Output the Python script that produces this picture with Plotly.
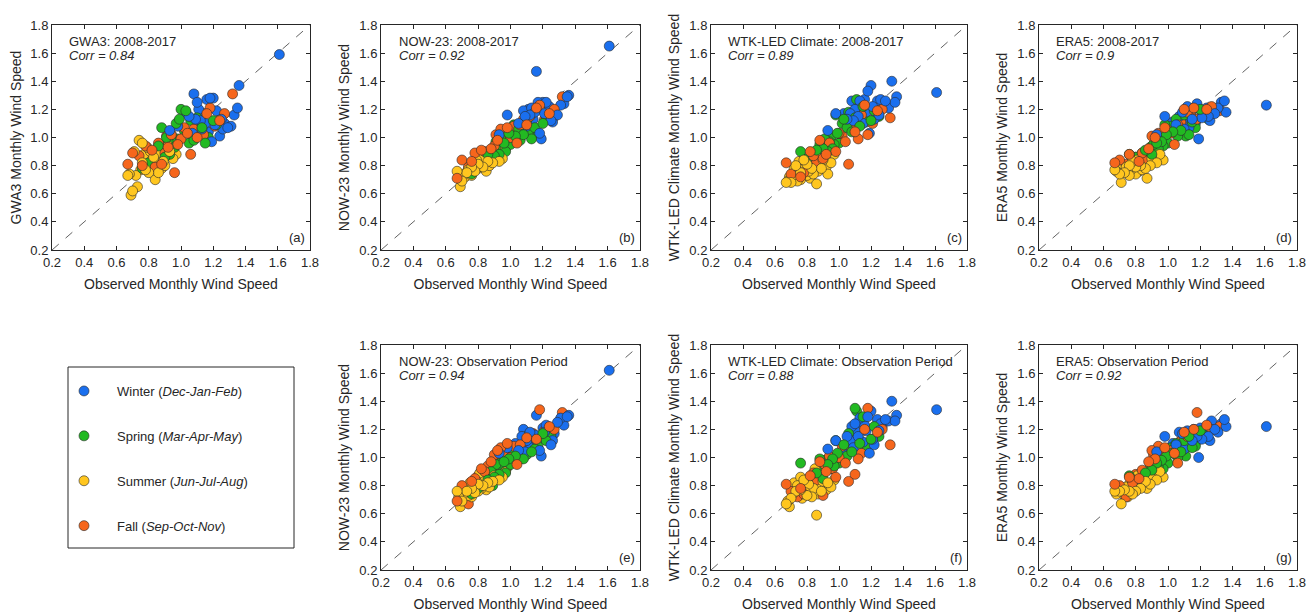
import plotly.graph_objects as go

# ---------------- data ----------------
season_names = ["Winter (<i>Dec-Jan-Feb</i>)", "Spring (<i>Mar-Apr-May</i>)",
                "Summer (<i>Jun-Jul-Aug</i>)", "Fall (<i>Sep-Oct-Nov</i>)"]
season_colors = ["#1a6fee", "#22b922", "#ffc61f", "#f6661c"]

# observed monthly wind speed (shared by all panels)
obs_winter = [1.61, 1.36, 1.35, 1.33, 1.31, 1.29, 1.27, 1.26, 1.25, 1.24, 1.22, 1.21, 1.20, 1.19, 1.18,
              1.17, 1.16, 1.15, 1.14, 1.13, 1.12, 1.11, 1.10, 1.09, 1.08, 1.07, 1.05, 1.03, 0.98, 0.93]
obs_spring = [1.25, 1.22, 1.20, 1.17, 1.15, 1.13, 1.11, 1.10, 1.08, 1.06, 1.05, 1.03, 1.02, 1.00, 0.99,
              0.98, 0.97, 0.96, 0.95, 0.94, 0.93, 0.92, 0.91, 0.90, 0.89, 0.88, 0.86, 0.84, 0.80, 0.76]
obs_summer = [0.97, 0.95, 0.93, 0.92, 0.90, 0.89, 0.88, 0.87, 0.86, 0.85, 0.84, 0.83, 0.82, 0.81, 0.80,
              0.80, 0.79, 0.78, 0.77, 0.76, 0.76, 0.75, 0.74, 0.73, 0.72, 0.71, 0.70, 0.69, 0.68, 0.67]
obs_fall = [1.32, 1.27, 1.24, 1.21, 1.18, 1.16, 1.14, 1.12, 1.10, 1.08, 1.06, 1.04, 1.02, 1.00, 0.98,
            0.96, 0.94, 0.92, 0.91, 0.90, 0.88, 0.86, 0.84, 0.82, 0.80, 0.78, 0.76, 0.74, 0.70, 0.67]

# (a) GWA3 2008-2017
a_winter = [1.59, 1.37, 1.21, 1.16, 1.08, 1.07, 1.10, 1.06, 1.13, 1.01, 1.19, 1.09, 1.28, 0.97, 1.28,
            1.04, 1.27, 1.10, 1.17, 1.06, 1.12, 1.20, 1.25, 1.13, 1.31, 1.03, 1.15, 1.18, 1.08, 1.05]
a_spring = [1.15, 1.09, 1.12, 1.00, 0.96, 1.07, 1.02, 1.14, 0.98, 1.12, 0.96, 1.19, 1.05, 1.20, 1.13,
            0.99, 1.10, 0.93, 0.96, 1.02, 0.88, 0.97, 1.00, 0.86, 0.92, 1.07, 0.94, 0.87, 0.82, 0.78]
a_summer = [0.88, 0.85, 0.90, 0.94, 0.80, 0.83, 0.78, 0.89, 0.75, 0.82, 0.70, 0.86, 0.79, 0.90, 0.75,
            0.84, 0.93, 0.77, 0.88, 0.82, 0.96, 0.77, 0.98, 0.65, 0.73, 0.90, 0.62, 0.59, 0.74, 0.73]
a_fall = [1.31, 1.17, 1.12, 1.08, 1.21, 1.17, 1.02, 1.11, 1.00, 1.06, 0.88, 1.03, 1.07, 0.99, 0.95,
          0.75, 1.02, 0.93, 1.01, 0.89, 0.81, 0.96, 0.79, 0.91, 0.76, 0.94, 0.80, 0.87, 0.89, 0.81]

# (b) NOW-23 2008-2017
b_winter = [1.65, 1.30, 1.29, 1.24, 1.23, 1.16, 1.15, 1.11, 1.12, 1.22, 1.25, 1.17, 1.25, 0.99, 1.03,
            1.25, 1.47, 1.18, 1.13, 1.21, 1.16, 1.20, 1.08, 1.15, 1.19, 1.06, 1.10, 1.07, 1.16, 1.02]
b_spring = [1.17, 1.15, 1.10, 1.03, 1.07, 0.99, 1.04, 1.12, 1.02, 0.98, 1.06, 1.01, 1.09, 0.95, 1.03,
            1.06, 0.90, 0.96, 0.94, 0.99, 0.88, 0.92, 0.97, 0.87, 0.85, 0.91, 0.88, 0.84, 0.79, 0.74]
b_summer = [0.92, 0.85, 0.83, 0.86, 0.89, 0.82, 0.87, 0.80, 0.83, 0.76, 0.87, 0.79, 0.80, 0.85, 0.81,
            0.78, 0.84, 0.76, 0.80, 0.73, 0.79, 0.74, 0.77, 0.75, 0.72, 0.74, 0.69, 0.65, 0.72, 0.76]
b_fall = [1.29, 1.20, 1.17, 1.13, 1.23, 1.21, 1.18, 1.15, 1.09, 1.13, 1.09, 0.96, 1.08, 1.00, 1.07,
          1.03, 1.06, 0.98, 1.02, 0.94, 0.92, 0.89, 0.90, 0.91, 0.88, 0.89, 0.83, 0.79, 0.84, 0.71]

# (c) WTK-LED Climate 2008-2017
c_winter = [1.32, 1.29, 1.25, 1.40, 1.21, 1.26, 1.22, 1.27, 1.16, 1.26, 1.13, 1.22, 1.37, 1.03, 1.33,
            1.18, 1.27, 1.10, 1.21, 1.26, 1.15, 1.24, 1.20, 1.12, 1.26, 1.17, 1.13, 1.17, 1.17, 1.05]
c_spring = [1.15, 1.19, 1.12, 1.11, 1.22, 1.08, 1.27, 1.14, 1.04, 1.18, 1.07, 1.13, 1.10, 0.96, 1.03,
            1.16, 0.95, 0.92, 1.00, 0.97, 0.90, 0.94, 0.99, 0.92, 0.97, 0.95, 0.91, 0.88, 0.85, 0.90]
c_summer = [0.88, 0.82, 0.74, 0.79, 0.84, 0.78, 0.85, 0.76, 0.67, 0.80, 0.74, 0.78, 0.71, 0.76, 0.81,
            0.73, 0.79, 0.84, 0.77, 0.70, 0.75, 0.83, 0.69, 0.80, 0.78, 0.73, 0.68, 0.72, 0.69, 0.68]
c_fall = [1.14, 1.20, 1.19, 1.10, 1.02, 1.23, 1.16, 0.99, 1.04, 1.08, 0.81, 0.97, 1.01, 1.03, 0.90,
          0.94, 0.96, 0.88, 0.92, 0.85, 0.98, 0.83, 0.87, 0.90, 0.78, 0.75, 0.72, 0.78, 0.74, 0.82]

# (d) ERA5 2008-2017
d_winter = [1.23, 1.18, 1.26, 1.25, 1.21, 1.17, 1.19, 1.12, 1.15, 1.21, 1.17, 1.14, 1.20, 0.99, 1.24,
            1.10, 1.21, 1.13, 1.18, 1.07, 1.22, 1.14, 1.06, 1.18, 1.12, 1.15, 1.09, 1.11, 1.15, 1.02]
d_spring = [1.13, 1.16, 1.20, 1.07, 1.11, 1.02, 1.01, 1.16, 1.05, 1.01, 1.13, 1.04, 1.08, 0.96, 1.02,
            1.09, 0.94, 0.97, 1.00, 0.92, 0.96, 0.91, 0.95, 0.88, 0.93, 0.90, 0.91, 0.89, 0.86, 0.88]
d_summer = [0.84, 0.88, 0.82, 0.86, 0.85, 0.80, 0.86, 0.71, 0.78, 0.83, 0.77, 0.80, 0.76, 0.84, 0.79,
            0.74, 0.81, 0.83, 0.77, 0.73, 0.80, 0.76, 0.79, 0.75, 0.77, 0.68, 0.74, 0.78, 0.76, 0.77]
d_fall = [1.19, 1.22, 1.20, 1.17, 1.13, 1.21, 1.16, 1.18, 1.20, 1.11, 1.09, 0.95, 1.03, 1.05, 1.07,
          0.98, 1.03, 1.00, 0.95, 1.01, 0.92, 0.85, 0.89, 0.83, 0.86, 0.82, 0.88, 0.81, 0.84, 0.82]

# (e) NOW-23 observation period
e_winter = [1.62, 1.30, 1.29, 1.23, 1.28, 1.25, 1.17, 1.12, 1.09, 1.21, 1.23, 1.18, 1.21, 1.01, 1.05,
            1.13, 1.30, 1.16, 1.10, 1.14, 1.18, 1.08, 1.12, 1.04, 1.20, 1.15, 1.05, 1.10, 1.07, 1.03]
e_spring = [1.15, 1.12, 1.17, 1.08, 1.06, 1.04, 1.16, 1.02, 0.99, 1.07, 0.98, 1.01, 1.04, 0.95, 0.99,
            0.93, 0.89, 0.97, 0.92, 0.96, 0.88, 0.91, 0.95, 0.86, 0.80, 0.90, 0.84, 0.82, 0.78, 0.74]
e_summer = [0.90, 0.86, 0.84, 0.88, 0.87, 0.83, 0.85, 0.79, 0.82, 0.77, 0.86, 0.80, 0.78, 0.89, 0.81,
            0.76, 0.83, 0.75, 0.79, 0.72, 0.78, 0.82, 0.73, 0.76, 0.70, 0.74, 0.69, 0.65, 0.72, 0.76]
e_fall = [1.32, 1.20, 1.22, 1.19, 1.34, 1.13, 1.17, 1.16, 1.14, 1.11, 1.09, 0.95, 1.08, 1.00, 1.10,
          1.04, 1.07, 1.05, 0.98, 1.02, 0.97, 0.94, 0.90, 0.92, 0.87, 0.85, 0.83, 0.67, 0.80, 0.69]

# (f) WTK-LED Climate observation period
f_winter = [1.34, 1.30, 1.26, 1.40, 1.26, 1.27, 1.22, 1.24, 1.19, 1.27, 1.09, 1.13, 1.33, 1.03, 1.29,
            1.19, 1.23, 1.11, 1.21, 1.28, 1.15, 1.18, 1.24, 1.07, 1.22, 1.12, 1.15, 1.05, 1.12, 1.06]
f_spring = [1.15, 1.22, 1.13, 1.08, 1.29, 1.10, 1.33, 1.35, 1.04, 1.17, 1.01, 1.09, 0.97, 0.96, 1.03,
            1.12, 0.94, 0.99, 0.92, 1.00, 0.95, 0.91, 0.98, 0.85, 0.93, 0.99, 0.89, 0.87, 0.84, 0.96]
f_summer = [0.84, 0.79, 0.82, 0.77, 0.83, 0.76, 0.80, 0.74, 0.59, 0.92, 0.78, 0.72, 0.76, 0.81, 0.73,
            0.79, 0.75, 0.84, 0.71, 0.86, 0.77, 0.73, 0.80, 0.76, 0.82, 0.74, 0.71, 0.65, 0.69, 0.67]
f_fall = [1.09, 1.20, 1.18, 1.13, 1.35, 1.20, 1.03, 0.99, 0.88, 1.06, 0.83, 0.96, 1.08, 1.00, 0.86,
          0.92, 1.01, 0.90, 0.95, 0.73, 0.97, 0.84, 0.89, 0.87, 0.80, 0.74, 0.78, 0.72, 0.76, 0.81]

# (g) ERA5 observation period
g_winter = [1.22, 1.22, 1.27, 1.24, 1.18, 1.20, 1.26, 1.12, 1.15, 1.21, 1.18, 1.13, 1.21, 1.00, 1.15,
            1.10, 1.20, 1.12, 1.17, 1.08, 1.19, 1.14, 1.06, 1.17, 1.11, 1.18, 1.09, 1.10, 1.15, 1.04]
g_spring = [1.13, 1.16, 1.19, 1.08, 1.07, 1.15, 1.01, 1.12, 1.04, 1.00, 1.10, 1.03, 1.07, 0.96, 1.01,
            1.05, 0.92, 0.98, 1.03, 0.93, 0.96, 0.89, 0.95, 0.91, 0.93, 0.85, 0.89, 0.87, 0.86, 0.87]
g_summer = [0.86, 0.90, 0.84, 0.87, 0.85, 0.81, 0.88, 0.78, 0.83, 0.80, 0.86, 0.78, 0.82, 0.87, 0.76,
            0.80, 0.84, 0.74, 0.78, 0.81, 0.76, 0.72, 0.79, 0.77, 0.74, 0.67, 0.76, 0.79, 0.74, 0.76]
g_fall = [1.22, 1.20, 1.23, 1.15, 1.32, 1.20, 1.11, 1.15, 1.18, 1.12, 0.96, 1.03, 1.05, 1.03, 1.07,
          1.01, 1.08, 0.99, 1.02, 1.05, 0.97, 0.87, 0.91, 0.85, 0.88, 0.82, 0.86, 0.72, 0.80, 0.81]

panel_titles = ["GWA3: 2008-2017", "NOW-23: 2008-2017", "WTK-LED Climate: 2008-2017", "ERA5: 2008-2017",
                "NOW-23: Observation Period", "WTK-LED Climate: Observation Period", "ERA5: Observation Period"]
panel_corr = ["0.84", "0.92", "0.89", "0.9", "0.94", "0.88", "0.92"]
panel_tags = ["(a)", "(b)", "(c)", "(d)", "(e)", "(f)", "(g)"]
panel_ytitles = ["GWA3 Monthly Wind Speed", "NOW-23 Monthly Wind Speed",
                 "WTK-LED Climate Monthly Wind Speed", "ERA5 Monthly Wind Speed",
                 "NOW-23 Monthly Wind Speed", "WTK-LED Climate Monthly Wind Speed", "ERA5 Monthly Wind Speed"]
x_title = "Observed Monthly Wind Speed"
tick_vals = [0.2, 0.4, 0.6, 0.8, 1.0, 1.2, 1.4, 1.6, 1.8]
tick_text = ["0.2", "0.4", "0.6", "0.8", "1.0", "1.2", "1.4", "1.6", "1.8"]

panel_y = [
    [a_winter, a_spring, a_summer, a_fall],
    [b_winter, b_spring, b_summer, b_fall],
    [c_winter, c_spring, c_summer, c_fall],
    [d_winter, d_spring, d_summer, d_fall],
    [e_winter, e_spring, e_summer, e_fall],
    [f_winter, f_spring, f_summer, f_fall],
    [g_winter, g_spring, g_summer, g_fall],
]
obs_x = [obs_winter, obs_spring, obs_summer, obs_fall]

# ---------------- layout geometry ----------------
# the page adds an 8px body margin, so the figure is laid out in window pixels minus 8
OFF = 8
W, H = 1316 - OFF, 612 - OFF
col_px = [(52, 310), (381, 640), (711, 967), (1039, 1297)]
row_px = [(25, 250), (345, 570)]
panel_cells = [(0, 0), (0, 1), (0, 2), (0, 3), (1, 1), (1, 2), (1, 3)]
N_PASSES = 3   # seasons are drawn interleaved (like a chronological plot), in 3 passes


def px_x(v):
    return (v - OFF) / W


def px_y(v):
    return 1 - (v - OFF) / H


TXT = "#262626"
FONT = "Liberation Sans, Arial, sans-serif"

fig = go.Figure()
layout_axes = {}
annotations = []
shapes = []

for i, (r, c) in enumerate(panel_cells):
    k = i + 1
    xa = "x" if k == 1 else f"x{k}"
    ya = "y" if k == 1 else f"y{k}"
    xdom = [px_x(col_px[c][0]), px_x(col_px[c][1])]
    ydom = [px_y(row_px[r][1]), px_y(row_px[r][0])]
    axis_common = dict(range=[0.2, 1.8], tickvals=tick_vals, ticktext=tick_text, automargin=False,
                       showgrid=False, zeroline=False, showline=True, linecolor=TXT, linewidth=1,
                       mirror="ticks", ticks="inside", ticklen=4, tickcolor=TXT,
                       tickfont=dict(size=13, color=TXT, family=FONT))
    layout_axes["xaxis" if k == 1 else f"xaxis{k}"] = dict(
        axis_common, domain=xdom, anchor=ya,
        title=dict(text=x_title, font=dict(size=14, color=TXT, family=FONT), standoff=10))
    layout_axes["yaxis" if k == 1 else f"yaxis{k}"] = dict(
        axis_common, domain=ydom, anchor=xa,
        title=dict(text=panel_ytitles[i], font=dict(size=14, color=TXT, family=FONT), standoff=6))

    # 1:1 reference line
    shapes.append(dict(type="line", xref=xa, yref=ya, x0=0.2, y0=0.2, x1=1.8, y1=1.8,
                       line=dict(color="#3a3a3a", width=0.8, dash="dash"), layer="below"))

    for p in range(N_PASSES):
        for s in range(4):
            fig.add_trace(go.Scatter(
                x=obs_x[s][p::N_PASSES], y=panel_y[i][s][p::N_PASSES], mode="markers",
                xaxis=xa, yaxis=ya,
                name=season_names[s], legendgroup=f"s{s}", legendrank=s + 1,
                showlegend=(i == 0 and p == 0),
                marker=dict(size=10, color=season_colors[s], line=dict(color="#2a2a2a", width=0.6)),
            ))

    annotations.append(dict(xref=f"{xa} domain", yref=f"{ya} domain", x=0.06, y=0.925,
                            xanchor="left", yanchor="middle", showarrow=False,
                            text=panel_titles[i], font=dict(size=13, color=TXT, family=FONT)))
    annotations.append(dict(xref=f"{xa} domain", yref=f"{ya} domain", x=0.06, y=0.865,
                            xanchor="left", yanchor="middle", showarrow=False,
                            text=f"<i>Corr = {panel_corr[i]}</i>",
                            font=dict(size=13, color=TXT, family=FONT)))
    annotations.append(dict(xref=f"{xa} domain", yref=f"{ya} domain", x=0.99, y=0.055,
                            xanchor="right", yanchor="middle", showarrow=False,
                            text=panel_tags[i], font=dict(size=13, color=TXT, family=FONT)))

# legend box
shapes.append(dict(type="rect", xref="paper", yref="paper",
                   x0=px_x(68), x1=px_x(294), y0=px_y(548), y1=px_y(367),
                   line=dict(color=TXT, width=1), fillcolor="rgba(0,0,0,0)"))

fig.update_layout(
    width=W, height=H,
    margin=dict(l=0, r=0, t=0, b=0),
    paper_bgcolor="white", plot_bgcolor="white",
    font=dict(family=FONT, color=TXT),
    shapes=shapes, annotations=annotations,
    legend=dict(x=px_x(51), y=px_y(376), xanchor="left", yanchor="top",
                bgcolor="rgba(0,0,0,0)", borderwidth=0,
                traceorder="grouped", tracegroupgap=25, itemwidth=56,
                font=dict(size=13, color=TXT, family=FONT)),
    **layout_axes,
)

fig.write_html("out.html")
